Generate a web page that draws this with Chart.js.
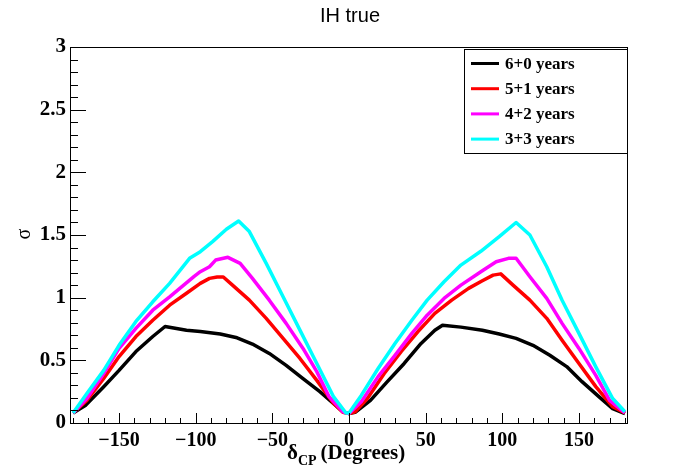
<!DOCTYPE html>
<html>
<head>
<meta charset="utf-8">
<script src="https://cdn.jsdelivr.net/npm/chart.js@4.4.1/dist/chart.umd.min.js"></script>
<style>
  body { margin: 0; background: #fff; }
  canvas { display: block; }
</style>
</head>
<body>
<canvas id="grafico" width="698" height="471"></canvas>
<script>
const titulo = 'IH true';
const rotulos = ['6+0 years', '5+1 years', '4+2 years', '3+3 years'];
const cores = ['#000000', '#ff0000', '#ff00ff', '#00ffff'];
const ticksX = [-150, -100, -50, 0, 50, 100, 150];

const xPreto = [-180,-172,-160,-150,-139,-128,-120,-106,-97,-84,-73,-63,-52,-41,-30,-19,-10,-4,0,4,14,25,36,47,56,61,73,87,98,109,120,131,142,152,163,172,180];
const yPreto = [0.08,0.14,0.29,0.42,0.57,0.69,0.77,0.74,0.73,0.71,0.68,0.63,0.555,0.46,0.355,0.25,0.155,0.09,0.075,0.085,0.18,0.33,0.475,0.635,0.74,0.78,0.765,0.74,0.71,0.675,0.62,0.54,0.45,0.33,0.21,0.115,0.075];

const xVermelho = [-180,-171,-160,-150,-139,-128,-117,-106,-97,-91,-86,-82,-76,-65,-54,-43,-32,-21,-10,-4,0,4,12,23,34,45,56,67,78,87,94,99,107,118,129,139,150,161,172,180];
const yVermelho = [0.08,0.18,0.355,0.53,0.69,0.82,0.94,1.035,1.114,1.154,1.165,1.165,1.1,0.98,0.835,0.675,0.515,0.34,0.155,0.085,0.075,0.09,0.195,0.395,0.57,0.73,0.875,0.98,1.074,1.135,1.18,1.19,1.1,0.98,0.835,0.66,0.475,0.29,0.13,0.08];

const xMagenta = [-180,-171,-160,-150,-139,-128,-117,-101,-97,-91,-87,-79,-71,-63,-52,-41,-30,-21,-13,-4,0,8,19,30,41,51,62,73,87,96,104,109,118,129,139,150,161,170,180];
const yMagenta = [0.08,0.195,0.395,0.595,0.755,0.9,1.007,1.17,1.207,1.247,1.3,1.322,1.274,1.154,0.98,0.795,0.595,0.41,0.21,0.09,0.075,0.17,0.37,0.54,0.715,0.86,0.994,1.1,1.215,1.287,1.314,1.314,1.167,0.994,0.795,0.595,0.38,0.18,0.08];

const xCiano = [-180,-171,-160,-150,-139,-128,-117,-104,-97,-89,-80,-72,-65,-54,-43,-32,-21,-10,-2,0,8,19,30,41,51,62,73,86,98,109,118,129,139,150,161,172,180];
const yCiano = [0.08,0.235,0.42,0.62,0.81,0.967,1.114,1.314,1.367,1.447,1.546,1.612,1.527,1.274,1.007,0.741,0.475,0.208,0.08,0.08,0.22,0.435,0.635,0.82,0.98,1.127,1.26,1.37,1.487,1.6,1.5,1.247,0.98,0.715,0.448,0.195,0.09];

const fonteSerif = '"Liberation Serif", "DejaVu Serif", serif';

function montaPontos(xs, ys) {
    return xs.map((x, i) => ({ x: x, y: ys[i] }));
}

function montaDataset(i, xs, ys) {
    return {
        label: rotulos[i],
        data: montaPontos(xs, ys),
        borderColor: cores[i],
        backgroundColor: cores[i],
        borderWidth: 3.5,
        borderJoinStyle: 'round',
        pointRadius: 0,
        tension: 0,
        fill: false,
        order: 3 - i
    };
}

// moldura, ticks para dentro, titulos e legenda no estilo ROOT
const estiloRoot = {
    id: 'estiloRoot',
    afterDatasetsDraw(chart) {
        const ctx = chart.ctx;
        const area = chart.chartArea;
        const sx = chart.scales.x;
        const sy = chart.scales.y;

        ctx.save();
        ctx.strokeStyle = '#000';
        ctx.lineWidth = 1;
        ctx.strokeRect(area.left + 0.5, area.top + 0.5, area.right - area.left - 1, area.bottom - area.top);

        ctx.beginPath();
        for (let v = -180; v <= 180; v += 10) {
            const px = Math.round(sx.getPixelForValue(v)) + 0.5;
            const len = (v % 50 === 0) ? 10 : 5;
            ctx.moveTo(px, area.bottom);
            ctx.lineTo(px, area.bottom - len);
        }
        for (let k = 0; k <= 30; k++) {
            const py = Math.round(sy.getPixelForValue(k / 10)) + 0.5;
            const len = (k % 5 === 0) ? 16 : 8;
            ctx.moveTo(area.left, py);
            ctx.lineTo(area.left + len, py);
        }
        ctx.stroke();

        // legenda
        const lx = 464, ly = 49, lw = 164, lh = 105;
        ctx.fillStyle = '#fff';
        ctx.fillRect(lx, ly, lw, lh);
        ctx.strokeRect(lx + 0.5, ly + 0.5, lw - 1, lh - 1);
        ctx.font = 'bold 17px ' + fonteSerif;
        ctx.textBaseline = 'middle';
        ctx.textAlign = 'left';
        chart.data.datasets.forEach((ds, i) => {
            const yy = 63.5 + i * 25.2;
            ctx.strokeStyle = ds.borderColor;
            ctx.lineWidth = 3;
            ctx.beginPath();
            ctx.moveTo(471, yy);
            ctx.lineTo(499, yy);
            ctx.stroke();
            ctx.fillStyle = '#000';
            ctx.fillText(ds.label, 505, yy + 1);
        });

        // titulo
        ctx.fillStyle = '#000';
        ctx.font = '20px "Liberation Sans", Arial, sans-serif';
        ctx.textAlign = 'center';
        ctx.textBaseline = 'middle';
        ctx.fillText(titulo, 350, 16);

        // titulo eixo x: delta_CP (Degrees)
        ctx.textAlign = 'left';
        ctx.textBaseline = 'alphabetic';
        ctx.font = 'bold 21px ' + fonteSerif;
        let xx = 287;
        ctx.fillText('\u03b4', xx, 459);
        xx += ctx.measureText('\u03b4').width;
        ctx.font = 'bold 14px ' + fonteSerif;
        ctx.fillText('CP', xx, 465);
        xx += ctx.measureText('CP').width + 4;
        ctx.font = 'bold 21px ' + fonteSerif;
        ctx.fillText('(Degrees)', xx, 459);

        // titulo eixo y: sigma
        ctx.save();
        ctx.translate(25, 234);
        ctx.rotate(-Math.PI / 2);
        ctx.font = '20px ' + fonteSerif;
        ctx.textAlign = 'center';
        ctx.textBaseline = 'middle';
        ctx.fillText('\u03c3', 0, 0);
        ctx.restore();

        ctx.restore();
    }
};

function renderizarGrafico() {
    const datasets = [
        montaDataset(0, xPreto, yPreto),
        montaDataset(1, xVermelho, yVermelho),
        montaDataset(2, xMagenta, yMagenta),
        montaDataset(3, xCiano, yCiano)
    ];

    const ctx = document.getElementById('grafico').getContext('2d');
    window.meuGrafico = new Chart(ctx, {
        type: 'line',
        data: { datasets: datasets },
        options: {
            responsive: false,
            animation: false,
            layout: { padding: { left: 0, right: 70, top: 47, bottom: 0 } },
            plugins: {
                legend: { display: false },
                title: { display: false },
                tooltip: { enabled: false }
            },
            scales: {
                x: {
                    type: 'linear',
                    min: -182,
                    max: 182,
                    afterFit: (s) => { s.height = 48; },
                    afterBuildTicks: (s) => {
                        s.ticks = ticksX.map(v => ({ value: v }));
                    },
                    grid: { display: false, drawTicks: false },
                    border: { display: false },
                    ticks: {
                        padding: 6,
                        color: '#000',
                        font: { family: fonteSerif, size: 20, weight: 'bold' },
                        callback: (v) => String(v).replace('-', '\u2212')
                    }
                },
                y: {
                    min: 0,
                    max: 3,
                    afterFit: (s) => { s.width = 70; },
                    grid: { display: false, drawTicks: false },
                    border: { display: false },
                    ticks: {
                        stepSize: 0.5,
                        padding: 4,
                        color: '#000',
                        font: { family: fonteSerif, size: 21, weight: 'bold' },
                        callback: (v) => String(Math.round(v * 10) / 10)
                    }
                }
            }
        },
        plugins: [estiloRoot]
    });
}

window.onload = function() {
    renderizarGrafico();
};
</script>
</body>
</html>
